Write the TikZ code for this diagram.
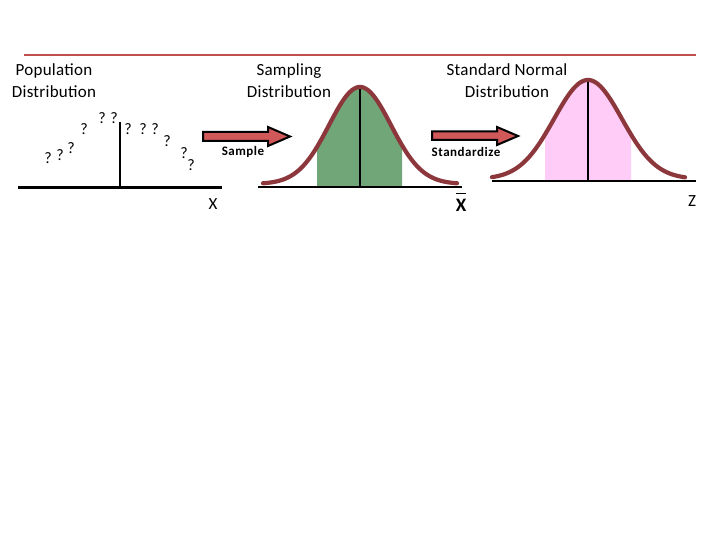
\documentclass[tikz,border=0pt]{standalone}
\usepackage{fontspec}
\setmainfont{Carlito}
\definecolor{topred}{RGB}{192,80,77}
\definecolor{arrred}{RGB}{208,88,88}
\definecolor{curvecol}{RGB}{140,55,60}
\definecolor{sampgreen}{RGB}{112,166,120}
\definecolor{znpink}{RGB}{255,204,248}
\begin{document}
\begin{tikzpicture}[x=1pt,y=-1pt,
  title/.style={align=center,font=\fontsize{17}{22}\selectfont\addfontfeature{LetterSpace=1.5},inner sep=0pt},
  qm/.style={font=\fontsize{16}{16}\selectfont,inner sep=0pt},
  axis/.style={line width=2.2pt,black},
  bell/.style={line width=4.2pt,curvecol,line cap=round},
  blockarrow/.style={fill=arrred,draw=black,line width=2pt,line join=miter},
  arrlabel/.style={font=\fontsize{13}{13}\bfseries\selectfont\addfontfeature{LetterSpace=4},inner sep=0pt},
  axlabel/.style={font=\fontsize{17}{17}\selectfont,inner sep=0pt}]
\useasboundingbox (0,0) rectangle (720,540);
% top rule
\draw[topred,line width=2.5pt] (24,55) -- (696,55);
% titles
\node[title] (poptitle) at (54,81) {Population\\Distribution};
\node[title] (samptitle) at (289,81) {Sampling\\Distribution};
\node[title] (stdtitle) at (507,81) {Standard Normal\\Distribution};
% population
\draw[axis] (18,187.5) -- (222,187.5);
\draw[axis,line width=2.5pt] (120,122) -- (120,187.5);
\node[qm] (q1) at (48,158) {?};
\node[qm] (q2) at (60,155) {?};
\node[qm] (q3) at (71,148) {?};
\node[qm] (q4) at (84,129) {?};
\node[qm] (q5) at (102,118) {?};
\node[qm] (q6) at (114,118) {?};
\node[qm] (q7) at (128,129) {?};
\node[qm] (q8) at (143,129) {?};
\node[qm] (q9) at (155,129) {?};
\node[qm] (q10) at (167,141) {?};
\node[qm] (q11) at (184,153) {?};
\node[qm] (q12) at (191,165) {?};
\node[axlabel] (xlab) at (213,204) {X};
% arrow 1
\draw[blockarrow] (203,132) -- (268,132) -- (268,127) -- (290,136.5) -- (268,146) -- (268,141) -- (203,141) -- cycle;
\node[arrlabel] (samplelab) at (243,152) {Sample};
% sampling distribution
\fill[sampgreen] (317,187) -- plot[domain=317:402,samples=60] (\x,{184-97*exp(-((\x-360)*(\x-360))/1922)}) -- (402,187) -- cycle;
\draw[axis] (258,187) -- (462,187);
\draw[axis,line width=2.5pt] (360,87) -- (360,187);
\draw[bell] plot[domain=263:457,samples=120] (\x,{184-97*exp(-((\x-360)*(\x-360))/1922)});
\node[font=\fontsize{19}{19}\bfseries\selectfont,inner sep=0pt] (xbar) at (461,205) {X};
\draw[black,line width=1.6pt] (456,193.5) -- (466,193.5);
% arrow 2
\draw[blockarrow] (432,131.5) -- (497,131.5) -- (497,127) -- (518,136) -- (497,145) -- (497,140) -- (432,140) -- cycle;
\node[arrlabel] (stdlab) at (466,152) {Standardize};
% standard normal
\fill[znpink] (545,181) -- plot[domain=545:631,samples=60] (\x,{179-99*exp(-((\x-588)*(\x-588))/2312)}) -- (631,181) -- cycle;
\draw[axis] (492,181) -- (696,181);
\draw[axis,line width=2.5pt] (588,80) -- (588,181);
\draw[bell] plot[domain=492:685,samples=120] (\x,{179-99*exp(-((\x-588)*(\x-588))/2312)});
\node[axlabel] (zlab) at (692,201) {Z};
\end{tikzpicture}
\end{document}
